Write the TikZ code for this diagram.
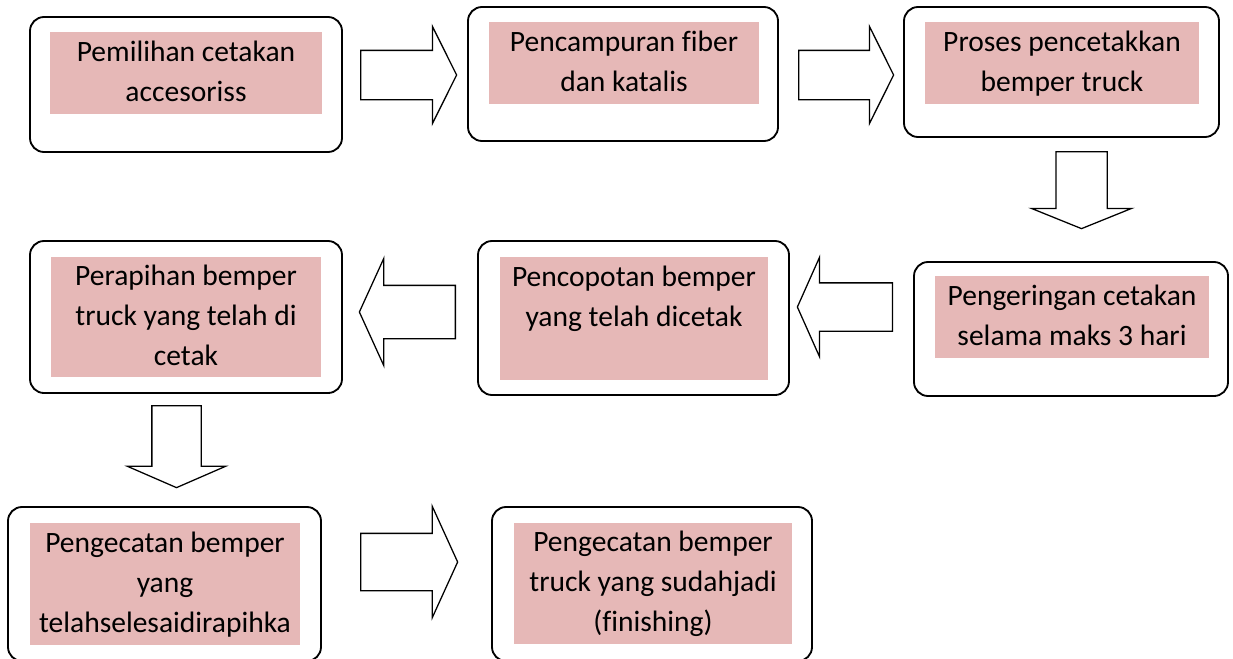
\documentclass[tikz,border=0pt]{standalone}
\usepackage{fontspec}
\setmainfont{Carlito}[Ligatures=NoCommon]
\usetikzlibrary{shapes.arrows}
\definecolor{pinkisi}{HTML}{E6B8B7}
\newcommand\pxs{0.025cm}

\begin{document}
\begin{tikzpicture}[x=\pxs,y=-\pxs,
  kotak/.style={draw, line width=1.3pt, rounded corners=0.35cm, inner sep=0pt},
  isi/.style={fill=pinkisi, inner sep=0pt, align=center,
    font=\fontsize{21}{28.45}\selectfont},
  panah/.style={draw, line width=0.9pt, fill=white, single arrow, anchor=tail}]
\useasboundingbox (0,0) rectangle (1233,658);
\clip (0,0) rectangle (1233,658);

% Kotak luar
\foreach \n/\cx/\cy/\w/\h in {1/186/84.5/312/135, 2/623/74/310/134,
    3/1061.5/72/315/130, 4/186/317/312/152, 5/633.5/318/311/154,
    6/1071/329/314/134, 7/164.5/584/313/154, 8/652/584/320/154}
  \node[kotak, minimum width=\w*\pxs, minimum height=\h*\pxs] (k\n) at (\cx,\cy) {};

% Isi (teks)
\node[isi, minimum width=272*\pxs, minimum height=82*\pxs] (t1) at (186,73)
  {\strut Pemilihan cetakan\\accesoriss\strut};
\node[isi, minimum width=270*\pxs, minimum height=82*\pxs] (t2) at (624,63)
  {\strut Pencampuran fiber\\dan katalis\strut};
\node[isi, minimum width=274*\pxs, minimum height=82*\pxs] (t3) at (1062,63)
  {\strut Proses pencetakkan\\bemper truck\strut};
\node[isi, minimum width=270*\pxs, minimum height=120*\pxs] (t4) at (186,317)
  {\strut Perapihan bemper\\truck yang telah di\\cetak\strut};
\node[isi, minimum width=268*\pxs, minimum height=123*\pxs] (t5) at (634,318.5)
  {\strut Pencopotan bemper\\yang telah dicetak\\\strut};
\node[isi, minimum width=274*\pxs, minimum height=82*\pxs] (t6) at (1072,317)
  {\strut Pengeringan cetakan\\selama maks 3 hari\strut};
\node[isi, minimum width=270*\pxs, minimum height=122*\pxs] (t7) at (165,584)
  {\strut Pengecatan bemper\\yang\\telahselesaidirapihka\strut};
\node[isi, minimum width=278*\pxs, minimum height=121*\pxs] (t8) at (653,583.5)
  {\strut Pengecatan bemper\\truck yang sudahjadi\\(finishing)\strut};

% Panah blok (dari ekor; batang = 2 x inner sep)
\foreach \n/\ex/\ey/\len/\bt/\ext/\ang/\rot in {1/360/75/96/24/24/127/0,
    2/798/75/95/24/24/127/0, 3/1081.5/151/77/25/24.5/136/270,
    4/456/312/96/26/27/131/180, 5/893/307/95/23.5/25.5/132/180,
    6/176.5/405/82/24/24.5/133/270, 7/360/562/97/28/27/131/0}
  \node[panah, inner sep=\bt*\pxs, minimum height=\len*\pxs,
    single arrow head extend=\ext*\pxs, single arrow tip angle=\ang,
    shape border rotate=\rot] (a\n) at (\ex,\ey) {};

\end{tikzpicture}
\end{document}
